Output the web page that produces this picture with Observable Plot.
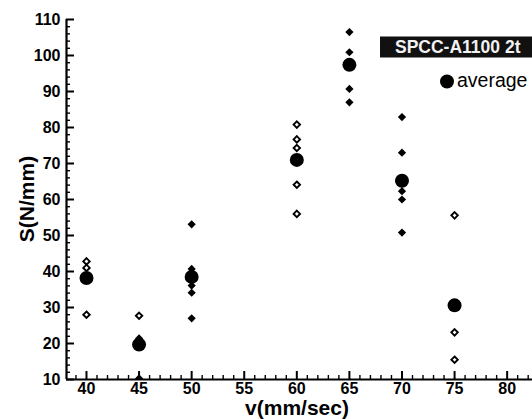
<!DOCTYPE html>
<html>
<head>
<meta charset="utf-8">
<script src="https://cdn.jsdelivr.net/npm/d3@7"></script>
<script src="https://cdn.jsdelivr.net/npm/@observablehq/plot@0.6"></script>
<style>
  html, body { margin: 0; padding: 0; background: #fff; }
  #chart svg { display: block; }
</style>
</head>
<body>
<div id="chart"></div>
<script>
// ---- data ----
const openV   = [40, 40, 40, 45, 60, 60, 60, 60, 60, 75, 75, 75];
const openS   = [42.8, 41.0, 28.0, 27.7, 80.8, 76.7, 74.3, 64.1, 56.0, 55.6, 23.1, 15.5];
const filledV = [45, 45, 50, 50, 50, 50, 50, 65, 65, 65, 65, 70, 70, 70, 70, 70];
const filledS = [21.4, 10.3, 53.1, 40.7, 36.1, 34.1, 27.0, 106.5, 100.9, 90.7, 87.0, 82.9, 73.0, 62.3, 60.0, 50.8];
const avgV    = [40, 45, 50, 60, 65, 70, 75];
const avgS    = [38.2, 19.7, 38.5, 71.0, 97.4, 65.2, 30.6];

const xMajor = [40, 45, 50, 55, 60, 65, 70, 75, 80];
const xMinor = d3.range(39, 83).filter(v => v % 5 !== 0);
const yMajor = [10, 20, 30, 40, 50, 60, 70, 80, 90, 100, 110];
const yMinor = d3.range(12, 110, 2).filter(v => v % 10 !== 0);

const xTitle = "v(mm/sec)";
const yTitle = "S(N/mm)";
const legendTitle = "SPCC-A1100 2t";
const legendAvg = "average";

// ---- layout ----
const W = 532, H = 419;
const mL = 66, mR = 0, mT = 19, mB = 40;
const frameW = W - mL - mR, frameH = H - mT - mB;

const openData = openV.map((v, i) => ({v, s: openS[i]}));
const filledData = filledV.map((v, i) => ({v, s: filledS[i]}));
const avgData = avgV.map((v, i) => ({v, s: avgS[i]}));

const FONT = "'Liberation Sans', Arial, Helvetica, sans-serif";

const chart = Plot.plot({
  width: W, height: H,
  marginLeft: mL, marginRight: mR, marginTop: mT, marginBottom: mB,
  style: {fontFamily: FONT, color: "#000", background: "#fff"},
  x: {domain: [38.1, 82.41]},
  y: {domain: [10, 110]},
  marks: [
    Plot.dot(openData, {x: "v", y: "s", symbol: "diamond2", r: 2.9, fill: "#fff", stroke: "#000", strokeWidth: 1.9}),
    Plot.dot(filledData, {x: "v", y: "s", symbol: "diamond2", r: 3.7, fill: "#000", stroke: "none", clip: true}),
    Plot.dot(avgData, {x: "v", y: "s", r: 7, fill: "#000", stroke: "none"}),
    // inward ticks
    Plot.tickX(xMajor, {x: d => d, insetTop: frameH - 8, stroke: "#000", strokeWidth: 2}),
    Plot.tickX(xMinor, {x: d => d, insetTop: frameH - 4, stroke: "#000", strokeWidth: 1.4}),
    Plot.tickY(yMajor, {y: d => d, insetRight: frameW - 8, stroke: "#000", strokeWidth: 2}),
    Plot.tickY(yMinor, {y: d => d, insetRight: frameW - 4, stroke: "#000", strokeWidth: 1.4}),
    // axis lines
    Plot.ruleX([38.1], {stroke: "#000", strokeWidth: 2.2}),
    Plot.ruleY([10], {stroke: "#000", strokeWidth: 2.2}),
    // tick labels
    Plot.axisX({ticks: xMajor, tickSize: 0, tickPadding: 3, label: null, fontSize: 16, fontWeight: "bold", fill: "#000"}),
    Plot.axisY({ticks: yMajor, tickSize: 0, tickPadding: 6, label: null, fontSize: 16, fontWeight: "bold", fill: "#000"})
  ]
});

document.getElementById("chart").appendChild(chart);

// titles and legend
const svg = d3.select(chart);
svg.append("text")
  .attr("x", 297).attr("y", 415)
  .attr("text-anchor", "middle")
  .style("font-family", FONT).style("font-size", "21px").style("font-weight", "bold")
  .attr("fill", "#000")
  .text(xTitle);
svg.append("text")
  .attr("transform", "translate(34,199) rotate(-90)")
  .attr("text-anchor", "middle")
  .style("font-family", FONT).style("font-size", "21px").style("font-weight", "bold")
  .attr("fill", "#000")
  .text(yTitle);

const lg = svg.append("g").attr("text-anchor", "start");
lg.append("rect").attr("x", 380).attr("y", 36.5).attr("width", 160).attr("height", 21).attr("fill", "#111");
lg.append("text")
  .attr("x", 395).attr("y", 53.3)
  .attr("text-anchor", "start")
  .style("font-family", FONT).style("font-size", "17.5px").style("font-weight", "bold")
  .attr("fill", "#f2f2f2")
  .text(legendTitle);
lg.append("circle").attr("cx", 447).attr("cy", 81.5).attr("r", 7).attr("fill", "#000");
lg.append("text")
  .attr("x", 457).attr("y", 87)
  .attr("text-anchor", "start")
  .style("font-family", FONT).style("font-size", "19.5px").style("font-weight", "normal")
  .attr("fill", "#000")
  .text(legendAvg);
</script>
</body>
</html>
